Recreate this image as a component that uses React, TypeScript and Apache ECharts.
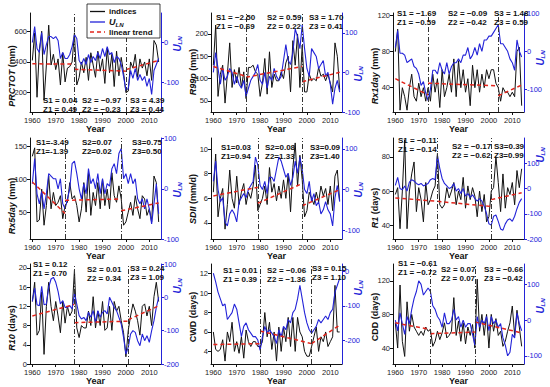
import React, { useEffect, useRef } from "react";
import * as echarts from "echarts";

const FONT = "'Liberation Sans', Arial, Helvetica, sans-serif";
const BLUE = "#2323d8";
const RED = "#e3241b";
const BLACK = "#111111";

const YEARS: number[] = Array.from({ length: 55 }, (_, i) => 1960 + i);
const X_TICKS = [1960, 1970, 1980, 1990, 2000, 2010];

// ---- PRCTOT ----
const prctot = [410, 590, 170, 480, 600, 150, 380, 640, 380, 450, 350, 420, 250, 460, 270, 360, 370, 400, 590, 250, 300, 400, 330, 430, 280, 460, 380, 300, 470, 340, 420, 260, 490, 330, 450, 240, 470, 310, 430, 330, 200, 210, 400, 360, 450, 300, 420, 360, 400, 310, 420, 280, 540, 510, 400];
const prctotU = [0, 40, -15, -25, 25, -30, -5, 15, 15, 10, 15, 5, -40, -25, -40, -40, -30, -10, 20, 10, -45, -55, -40, -55, -30, -50, -35, -45, -25, -40, -15, -35, -10, -30, -25, -50, -35, -40, -55, -85, -120, -115, -70, -90, -65, -95, -80, -95, -85, -110, -90, -130, -70, -55, -40];
const prctotTrend = [[1960, 388, 1978, 386], [1978, 352, 2000, 340], [2000, 350, 2014, 410]];
const prctotBreaks = [1978, 2000];
const prctotStats = ["S1 = 0.04", "Z1 = 0.49", "S2 = \u22120.97", "Z2 = \u22120.23", "S3 = 4.39", "Z3 = 0.44"];
const prctotLeftTicks = [200, 400, 600];
const prctotRightTicks = [-100, 0];

// ---- R99p ----
const r99p = [130, 220, 60, 110, 130, 45, 110, 180, 80, 120, 90, 125, 80, 115, 55, 125, 125, 130, 115, 110, 60, 90, 145, 65, 160, 80, 110, 95, 95, 115, 100, 135, 150, 70, 185, 130, 200, 80, 175, 70, 70, 110, 95, 100, 95, 125, 105, 110, 95, 110, 90, 70, 180, 150, 75];
const r99pU = [0, 50, 10, -30, 10, -20, -10, 10, 0, -30, -10, -30, -40, -20, -60, -40, -20, -10, 0, 20, -20, -30, 0, -40, -10, -20, 10, -10, -20, -10, 30, 70, 30, 20, 50, 110, 90, 60, 120, 60, 10, -10, 60, 50, 40, 10, 20, 30, -10, 0, -30, -80, -40, -20, -50];
const r99pTrend = [[1960, 127, 1974, 105], [1974, 103, 1998, 127], [1998, 93, 2014, 114]];
const r99pBreaks = [1974, 1998];
const r99pStats = ["S1 = \u22122.50", "Z1 = \u22120.69", "S2 = 0.59", "Z2 = 0.22", "S3 = 1.70", "Z3 = 0.41"];
const r99pLeftTicks = [50, 100, 150, 200];
const r99pRightTicks = [-100, 0, 100];

// ---- Rx1day ----
const rx1day = [80, 105, 15, 40, 30, 15, 40, 55, 30, 25, 45, 30, 40, 25, 40, 25, 55, 35, 50, 18, 60, 30, 40, 55, 35, 72, 30, 70, 40, 60, 35, 50, 20, 65, 40, 60, 35, 55, 40, 60, 50, 60, 60, 45, 40, 25, 40, 35, 35, 30, 35, 30, 80, 85, 20];
const rx1dayU = [10, 55, -5, -5, -10, -30, -25, -20, -40, -45, -60, -90, -80, -110, -130, -100, -50, -50, -60, -30, -50, -60, -30, -60, -40, -30, -30, -20, -30, -10, -10, 10, -20, -10, 10, -10, 20, 0, 30, 30, 40, 40, 50, 60, 70, 20, 20, 10, 0, -20, -30, -50, 30, 0, -15];
const rx1dayTrend = [[1960, 50, 1974, 32], [1974, 45, 2004, 42], [2004, 31, 2014, 43]];
const rx1dayBreaks = [1974, 2004];
const rx1dayStats = ["S1 = \u22121.69", "Z1 = \u22120.59", "S2 = \u22120.09", "Z2 = \u22120.42", "S3 = 1.48", "Z3 = 0.59"];
const rx1dayLeftTicks = [40, 80, 120];
const rx1dayRightTicks = [-100, 0, 100];

// ---- Rx5day ----
const rx5day = [135, 148, 35, 38, 85, 30, 60, 105, 55, 80, 60, 65, 75, 40, 60, 65, 95, 70, 75, 60, 35, 55, 95, 50, 110, 45, 80, 60, 95, 55, 100, 60, 85, 55, 110, 75, 65, 90, 70, 30, 35, 50, 65, 45, 75, 55, 40, 75, 70, 45, 55, 35, 105, 95, 35];
const rx5dayU = [10, 60, -10, -30, -5, -40, -10, 30, 25, 20, 20, 0, 20, -30, -40, -20, 0, 50, 55, 30, 0, -20, 10, -10, 40, 10, 20, 0, 30, -10, 20, -10, 10, 5, 40, 50, 30, 70, 80, 20, 30, 10, 30, 10, 20, -20, -30, -20, -40, -20, -40, -70, -30, 10, -50];
const rx5dayTrend = [[1960, 96, 1974, 48], [1974, 68, 1998, 70], [1998, 52, 2014, 64]];
const rx5dayBreaks = [1974, 1998];
const rx5dayStats = ["S1=-3.49", "Z1=-1.39", "S2=0.07", "Z2=0.02", "S3=0.75", "Z3=0.50"];
const rx5dayLeftTicks = [50, 100, 150];
const rx5dayRightTicks = [-100, 0, 100];

// ---- SDII ----
const sdii = [6.5, 9.6, 4.5, 6.0, 6.8, 3.5, 5.5, 8.3, 6.0, 5.2, 7.8, 5.5, 6.5, 7.2, 5.5, 6.5, 6.0, 7.0, 8.7, 5.0, 5.5, 6.0, 7.0, 5.5, 8.5, 6.5, 7.2, 5.8, 7.0, 6.0, 7.5, 6.0, 8.0, 4.9, 8.5, 10.5, 7.0, 9.5, 7.5, 4.5, 5.0, 6.5, 6.0, 5.5, 6.5, 5.7, 7.0, 6.2, 6.8, 5.5, 7.0, 5.0, 7.8, 8.3, 5.8];
const sdiiU = [20, 70, 0, -30, -20, -80, -90, -60, -50, -60, -80, -30, -20, -10, -20, 0, 10, 20, 80, 60, 10, 0, 20, -10, 30, 30, 20, 50, 80, 70, 50, 30, 40, 10, 30, 70, 40, 80, 50, 0, -10, 20, -30, -10, -40, -30, -60, -50, -30, -50, -60, -90, -20, 10, -30];
const sdiiTrend = [[1960, 6.2, 1979, 6.9], [1979, 5.6, 1998, 7.2], [1998, 5.4, 2014, 6.7]];
const sdiiBreaks = [1979, 1998];
const sdiiStats = ["S1=0.03", "Z1=0.94", "S2=0.08", "Z2=1.33", "S3=0.09", "Z3=1.40"];
const sdiiLeftTicks = [4, 6, 8, 10];
const sdiiRightTicks = [-100, 0, 100];

// ---- R1 ----
const r1 = [58, 62, 38, 60, 90, 38, 60, 70, 77, 48, 62, 55, 42, 65, 52, 55, 60, 63, 82, 52, 50, 52, 62, 56, 60, 65, 52, 60, 55, 68, 50, 63, 55, 62, 57, 45, 60, 48, 58, 42, 45, 60, 62, 80, 65, 48, 70, 50, 62, 58, 65, 52, 72, 62, 73];
const r1U = [12, 44, 0, -5, 10, -10, 25, 35, 30, 20, 15, 20, 10, 15, 20, 35, 40, 35, 130, 80, 40, 20, 10, 0, 5, 20, -10, 0, -20, 0, -30, -20, -35, -25, -40, -50, -40, -50, -70, -100, -140, -145, -110, -105, -130, -160, -165, -140, -125, -120, -130, -110, -80, -55, -40];
const r1Trend = [[1960, 56, 1978, 54], [1978, 54, 2001, 51], [2001, 55, 2014, 59]];
const r1Breaks = [1978, 2001];
const r1Stats = ["S1 = \u22120.11", "Z1 = \u22120.14", "S2 = \u22120.17", "Z2 = \u22120.62", "S3=0.39", "Z3=0.99"];
const r1LeftTicks = [40, 60, 80];
const r1RightTicks = [-200, -100, 0, 100];

// ---- R10 ----
const r10 = [13, 17, 6, 7, 15, 2, 12, 17, 12, 9, 13, 10, 6.5, 13, 8.5, 12, 10, 11, 19.5, 7.5, 5.5, 8, 7.5, 7.5, 11, 8, 14, 7.5, 11, 8, 13, 7, 7.5, 12, 7, 13, 11, 12, 9, 6.5, 1.5, 7, 10, 12.5, 11, 9, 6, 12, 12.5, 10, 12, 8, 14, 17, 13];
const r10U = [-12, 28, -22, -25, 33, -22, -20, 30, 55, 60, 45, 18, -20, -10, -30, -30, -25, -35, 12, -20, -55, -65, -60, -70, -45, -60, -40, -75, -40, -60, -45, -40, -50, 0, -15, -30, -40, -60, -80, -120, -170, -150, -110, -100, -105, -130, -145, -110, -130, -115, -135, -100, -70, -30, 0];
const r10Trend = [[1960, 10, 1978, 12.4], [1978, 8.6, 2001, 8.9], [2001, 9.2, 2014, 12.1]];
const r10Breaks = [1978, 2001];
const r10Stats = ["S1 = 0.12", "Z1 = 0.70", "S2 = 0.01", "Z2 = 0.34", "S3 = 0.24", "Z3 = 1.09"];
const r10LeftTicks = [0, 4, 8, 12, 16, 20];
const r10RightTicks = [-200, -100, 0, 100];

// ---- CWD ----
const cwd = [6, 4.2, 4, 4.2, 5.2, 3, 6, 5, 7, 4, 5, 3.8, 5.5, 3.3, 6.2, 5, 4.5, 5, 5, 4.5, 4.5, 5, 8, 5.5, 7, 4.2, 6, 3, 6.5, 4, 6.5, 5, 7.5, 4.5, 7.5, 4, 7.5, 6, 5.5, 4, 3.5, 3.5, 4.5, 5.5, 6.5, 4, 5.5, 5, 6, 4.5, 5, 5.5, 10.8, 6, 6];
const cwdU = [-5, -30, -60, -80, -100, -95, -140, -130, -120, -95, -110, -150, -190, -160, -150, -170, -180, -190, -190, -200, -230, -190, -160, -180, -170, -180, -190, -210, -170, -190, -160, -170, -140, -150, -120, -110, -80, -40, -80, -120, -150, -170, -180, -170, -160, -140, -150, -140, -130, -140, -120, -110, -60, -40, -20];
const cwdTrend = [[1960, 4.7, 1980, 4.8], [1980, 6.1, 2002, 4.8], [2002, 4.8, 2014, 6.7]];
const cwdBreaks = [1980, 2002];
const cwdStats = ["S1 = 0.01", "Z1 = 0.39", "S2 = \u22120.06", "Z2 = \u22121.36", "S3 = 0.15", "Z3 = 1.10"];
const cwdLeftTicks = [4, 6, 8, 10, 12];
const cwdRightTicks = [-200, -100, 0];

// ---- CDD ----
const cdd = [70, 40, 115, 48, 30, 95, 60, 80, 65, 60, 55, 60, 55, 65, 60, 62, 42, 48, 60, 50, 58, 70, 52, 55, 60, 100, 55, 72, 48, 70, 45, 65, 55, 68, 40, 122, 60, 80, 55, 80, 40, 80, 60, 75, 55, 60, 42, 48, 60, 70, 90, 55, 85, 65, 42];
const cddU = [0, -30, 20, -10, -40, 10, -10, 30, 60, 80, 110, 100, 70, 80, 90, 80, 40, 30, 10, 0, -20, 20, -10, -10, 0, 30, 0, 10, -20, 0, -20, -10, -10, -40, -70, 10, -20, 0, -10, 10, -30, 10, -10, 0, -20, -10, -50, -70, -100, -90, -40, -50, 20, -10, -30];
const cddTrend = [[1960, 70, 1975, 62], [1975, 57, 1994, 59], [1994, 71, 2014, 58]];
const cddBreaks = [1975, 1994];
const cddStats = ["S1 = \u22120.61", "Z1 = \u22120.72", "S2 = 0.07", "Z2 = 0.07", "S3 = \u22120.66", "Z3 = \u22120.42"];
const cddLeftTicks = [40, 80, 120];
const cddRightTicks = [-100, 0, 100];

// ---- layout (positions / styles) ----
const COL_X = [30, 211, 393];
const COL_W = 131;
const ROW_Y = [13, 138, 264];
const ROW_H = [99, 101, 100];

const PANELS = [
  { name: "PRCTOT", unit: "(mm)", italic: true, data: prctot, u: prctotU, trend: prctotTrend, breaks: prctotBreaks, stats: prctotStats, lt: prctotLeftTicks, rt: prctotRightTicks, lmin: 74, lmax: 719, rmin: -174, rmax: 74, col: 0, row: 0, pos: [[43, 100], [82, 100], [130, 100]], lny: 76, rny: 44 },
  { name: "R99p", unit: "(mm)", italic: true, data: r99p, u: r99pU, trend: r99pTrend, breaks: r99pBreaks, stats: r99pStats, lt: r99pLeftTicks, rt: r99pRightTicks, lmin: 25, lmax: 247, rmin: -100, rmax: 150, col: 1, row: 0, pos: [[216, 17], [267, 17], [309, 17]], lny: 72, rny: 74 },
  { name: "Rx1day", unit: "(mm)", italic: true, data: rx1day, u: rx1dayU, trend: rx1dayTrend, breaks: rx1dayBreaks, stats: rx1dayStats, lt: rx1dayLeftTicks, rt: rx1dayRightTicks, lmin: 13, lmax: 123, rmin: -160, rmax: 101, col: 2, row: 0, pos: [[397, 13], [448, 13], [494, 13]], lny: 76, rny: 58 },
  { name: "Rx5day", unit: "(mm)", italic: true, data: rx5day, u: rx5dayU, trend: rx5dayTrend, breaks: rx5dayBreaks, stats: rx5dayStats, lt: rx5dayLeftTicks, rt: rx5dayRightTicks, lmin: 9, lmax: 163, rmin: -100, rmax: 101, col: 0, row: 1, pos: [[36, 142], [82, 142], [132, 142]], lny: 206, rny: 190 },
  { name: "SDII", unit: "(mm/d)", italic: true, data: sdii, u: sdiiU, trend: sdiiTrend, breaks: sdiiBreaks, stats: sdiiStats, lt: sdiiLeftTicks, rt: sdiiRightTicks, lmin: 2.7, lmax: 10.9, rmin: -122, rmax: 127, col: 1, row: 1, pos: [[221, 147], [265, 147], [310, 147]], lny: 199, rny: 190 },
  { name: "R1", unit: "(days)", italic: true, data: r1, u: r1U, trend: r1Trend, breaks: r1Breaks, stats: r1Stats, lt: r1LeftTicks, rt: r1RightTicks, lmin: 32, lmax: 91, rmin: -200, rmax: 200, col: 2, row: 1, pos: [[398, 140], [452, 146], [494, 146]], lny: 208, rny: 155 },
  { name: "R10", unit: "(days)", italic: true, data: r10, u: r10U, trend: r10Trend, breaks: r10Breaks, stats: r10Stats, lt: r10LeftTicks, rt: r10RightTicks, lmin: 0, lmax: 20.8, rmin: -200, rmax: 100, col: 0, row: 2, pos: [[33, 264], [87, 269], [130, 268]], lny: 328, rny: 286 },
  { name: "CWD", unit: "(days)", italic: false, data: cwd, u: cwdU, trend: cwdTrend, breaks: cwdBreaks, stats: cwdStats, lt: cwdLeftTicks, rt: cwdRightTicks, lmin: 2.7, lmax: 13, rmin: -270, rmax: 22, col: 1, row: 2, pos: [[223, 270], [267, 270], [312, 268]], lny: 317, rny: 288 },
  { name: "CDD", unit: "(days)", italic: false, data: cdd, u: cddU, trend: cddTrend, breaks: cddBreaks, stats: cddStats, lt: cddLeftTicks, rt: cddRightTicks, lmin: 21, lmax: 140, rmin: -123, rmax: 157, col: 2, row: 2, pos: [[398, 263], [441, 269], [484, 269]], lny: 317, rny: 306 },
];

const plain = (v: number) => String(v);

function buildOption() {
  const grid: any[] = [];
  const xAxis: any[] = [];
  const yAxis: any[] = [];
  const series: any[] = [];
  const graphic: any[] = [];
  const tickFont = { fontSize: 7.5, fontFamily: FONT };

  PANELS.forEach((p, k) => {
    const left = COL_X[p.col];
    const top = ROW_Y[p.row];
    const h = ROW_H[p.row];
    grid.push({ left, top, width: COL_W, height: h });
    xAxis.push({
      type: "value", gridIndex: k, min: 1959, max: 2015,
      axisLine: { show: true, onZero: false, lineStyle: { color: BLACK, width: 1 } },
      axisTick: { show: true, length: 3, customValues: X_TICKS, lineStyle: { color: BLACK } },
      axisLabel: { customValues: X_TICKS, formatter: plain, color: "#222", margin: 4, ...tickFont },
      splitLine: { show: false },
      name: "Year", nameLocation: "middle", nameGap: 10,
      nameTextStyle: { fontWeight: "bold", fontSize: 9, fontFamily: FONT, color: BLACK },
    });
    yAxis.push({
      type: "value", gridIndex: k, position: "left", min: p.lmin, max: p.lmax,
      axisLine: { show: true, lineStyle: { color: BLACK, width: 1 } },
      axisTick: { show: true, length: 3, customValues: p.lt, lineStyle: { color: BLACK } },
      axisLabel: { customValues: p.lt, formatter: plain, color: "#222", margin: 3, ...tickFont },
      splitLine: { show: false },
    });
    yAxis.push({
      type: "value", gridIndex: k, position: "right", min: p.rmin, max: p.rmax,
      axisLine: { show: true, lineStyle: { color: BLUE, width: 1 } },
      axisTick: { show: true, length: 3, customValues: p.rt, lineStyle: { color: BLUE } },
      axisLabel: { customValues: p.rt, formatter: plain, color: BLUE, margin: 3, ...tickFont },
      splitLine: { show: false },
    });
    series.push({
      type: "line", xAxisIndex: k, yAxisIndex: 2 * k, symbol: "none", z: 2,
      data: YEARS.map((y, i) => [y, p.data[i]]),
      lineStyle: { color: BLACK, width: 1 },
      markLine: {
        silent: true, symbol: "none", label: { show: false },
        lineStyle: { color: "#333", width: 1, type: [5, 2, 1, 2] },
        data: p.breaks.map((b) => ({ xAxis: b })),
      },
    });
    series.push({
      type: "line", xAxisIndex: k, yAxisIndex: 2 * k + 1, symbol: "none", z: 3,
      data: YEARS.map((y, i) => [y, p.u[i]]),
      lineStyle: { color: BLUE, width: 1.1 },
    });
    p.trend.forEach((s) => {
      series.push({
        type: "line", xAxisIndex: k, yAxisIndex: 2 * k, symbol: "none", z: 4,
        data: [[s[0], s[1]], [s[2], s[3]]],
        lineStyle: { color: RED, width: 1.5, type: [4, 3] },
      });
    });
    p.pos.forEach((pt, j) => {
      graphic.push({ type: "text", x: pt[0], y: pt[1], z: 100, style: { text: p.stats[2 * j], fill: BLACK, font: `bold 8px ${FONT}`, align: "left", verticalAlign: "middle" } });
      graphic.push({ type: "text", x: pt[0], y: pt[1] + 9.5, z: 100, style: { text: p.stats[2 * j + 1], fill: BLACK, font: `bold 8px ${FONT}`, align: "left", verticalAlign: "middle" } });
    });
    graphic.push({
      type: "text", x: left - 18, y: p.lny, rotation: Math.PI / 2, z: 100,
      style: {
        text: `{a|${p.name}}{b| ${p.unit}}`, align: "center", verticalAlign: "middle",
        rich: {
          a: { fontSize: 9, fontWeight: "bold", fontStyle: p.italic ? "italic" : "normal", fontFamily: FONT, fill: BLACK },
          b: { fontSize: 9, fontWeight: "bold", fontFamily: FONT, fill: BLACK },
        },
      },
    });
    graphic.push({
      type: "text", x: left + COL_W + 16, y: p.rny, rotation: Math.PI / 2, z: 100,
      style: {
        text: "{u|U}{s|LN}", align: "center", verticalAlign: "middle",
        rich: {
          u: { fontSize: 10, fontWeight: "bold", fontStyle: "italic", fontFamily: FONT, fill: BLUE },
          s: { fontSize: 6, fontWeight: "bold", fontStyle: "italic", fontFamily: FONT, fill: BLUE, padding: [5, 0, 0, 0] },
        },
      },
    });
  });

  graphic.push({ type: "rect", z: 90, shape: { x: 87, y: 4, width: 73, height: 34 }, style: { fill: "#fff", stroke: BLACK, lineWidth: 0.8 } });
  graphic.push({ type: "line", z: 91, shape: { x1: 90, y1: 11.5, x2: 105, y2: 11.5 }, style: { stroke: BLACK, lineWidth: 1.3 } });
  graphic.push({ type: "line", z: 91, shape: { x1: 90, y1: 22, x2: 105, y2: 22 }, style: { stroke: BLUE, lineWidth: 1.3 } });
  graphic.push({ type: "line", z: 91, shape: { x1: 90, y1: 32, x2: 105, y2: 32 }, style: { stroke: RED, lineWidth: 1.5, lineDash: [4, 3] } });
  graphic.push({ type: "text", z: 92, x: 109, y: 11.5, style: { text: "indices", fill: BLACK, font: `bold 8px ${FONT}`, align: "left", verticalAlign: "middle" } });
  graphic.push({
    type: "text", z: 92, x: 109, y: 22,
    style: {
      text: "{u|U}{s|LN}", align: "left", verticalAlign: "middle",
      rich: {
        u: { fontSize: 9, fontWeight: "bold", fontStyle: "italic", fontFamily: FONT, fill: BLACK },
        s: { fontSize: 6, fontWeight: "bold", fontStyle: "italic", fontFamily: FONT, fill: BLACK, padding: [5, 0, 0, 0] },
      },
    },
  });
  graphic.push({ type: "text", z: 92, x: 109, y: 32, style: { text: "linear trend", fill: BLACK, font: `bold 8px ${FONT}`, align: "left", verticalAlign: "middle" } });

  return { animation: false, backgroundColor: "#fff", grid, xAxis, yAxis, series, graphic };
}

export default function App() {
  const ref = useRef<HTMLDivElement>(null);
  useEffect(() => {
    document.body.style.margin = "0";
    const chart = echarts.init(ref.current as HTMLDivElement, undefined, { renderer: "svg" });
    chart.setOption(buildOption() as any);
    return () => chart.dispose();
  }, []);
  return <div ref={ref} style={{ width: 550, height: 387 }} />;
}
